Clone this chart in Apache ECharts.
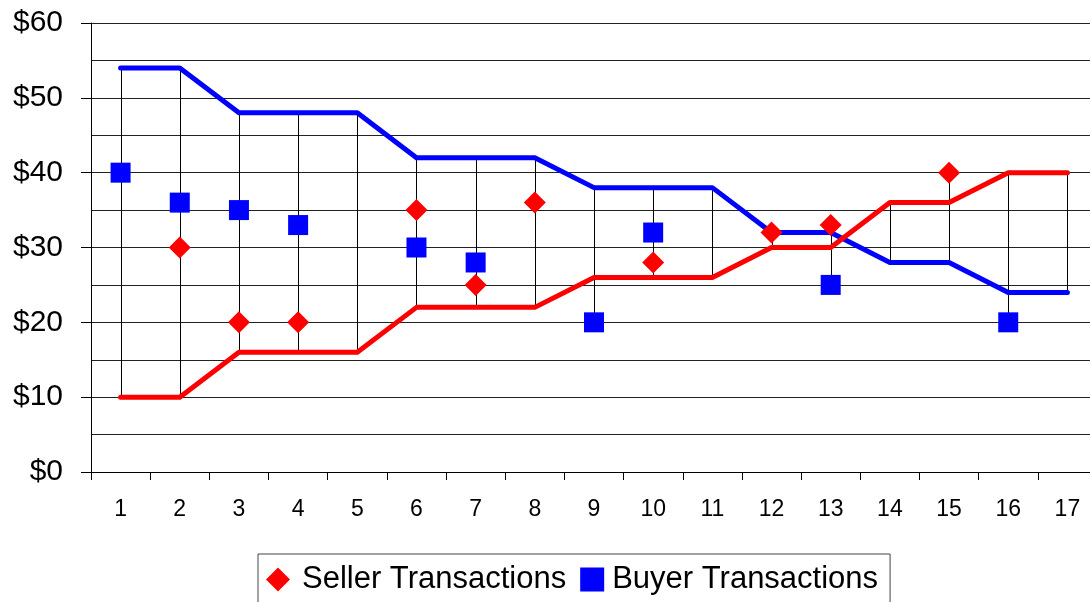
<!DOCTYPE html>
<html>
<head>
<meta charset="utf-8">
<title>Transactions</title>
<script src="https://cdn.jsdelivr.net/npm/echarts@6/dist/echarts.min.js"></script>
<style>
    html, body { margin: 0; padding: 0; background: #fff; overflow: hidden; }
    #chart { width: 1100px; height: 602px; }
</style>
</head>
<body>
<div id="chart"></div>
<script>
// 数据
const periods = ['1', '2', '3', '4', '5', '6', '7', '8', '9', '10', '11', '12', '13', '14', '15', '16', '17'];
const buyerValues = [54, 54, 48, 48, 48, 42, 42, 42, 38, 38, 38, 32, 32, 28, 28, 24, 24];
const sellerCosts = [10, 10, 16, 16, 16, 22, 22, 22, 26, 26, 26, 30, 30, 36, 36, 40, 40];
const sellerTrans = [null, 30, 20, 20, null, 35, 25, 36, null, 28, null, 32, 33, null, 40, null, null];
const buyerTrans = [40, 36, 35, 33, null, 30, 28, null, 20, 32, null, null, 25, null, null, 20, null];
const yTicks = [0, 10, 20, 30, 40, 50, 60];

const font = 'Liberation Sans, Arial, sans-serif';

// 高低线：每个类别所有数值的最小值和最大值
const hiLo = periods.map(function (p, i) {
    const vals = [buyerValues[i], sellerCosts[i], sellerTrans[i], buyerTrans[i]]
        .filter(function (v) { return v !== null; });
    return [i, Math.min.apply(null, vals), Math.max.apply(null, vals)];
});

function points(arr) {
    const out = [];
    arr.forEach(function (v, i) {
        if (v !== null) out.push([i, v]);
    });
    return out;
}

const myEcharts = echarts.init(document.getElementById('chart'));
const option = {
    animation: false,
    grid: {
        left: 91,
        top: 23,
        width: 1006,
        height: 449
    },
    legend: {
        left: 258,
        top: 554,
        padding: [10, 12, 30, 8],
        borderColor: '#444',
        borderWidth: 1,
        itemWidth: 24,
        itemHeight: 24,
        itemGap: 14,
        symbolKeepAspect: true,
        textStyle: { fontFamily: font, fontSize: 31, color: '#000' },
        data: [{
            name: 'Seller Transactions',
            textStyle: { padding: [0, 0, 0, 7] }
        }, {
            name: 'Buyer Transactions',
            textStyle: { padding: [0, 0, 0, 3] }
        }]
    },
    xAxis: {
        type: 'category',
        data: periods,
        boundaryGap: true,
        axisLine: { lineStyle: { color: '#000', width: 1 } },
        axisTick: { show: true, length: 8, lineStyle: { color: '#000' } },
        axisLabel: { fontFamily: font, fontSize: 23, color: '#000', margin: 26 },
        splitLine: { show: false }
    },
    yAxis: {
        type: 'value',
        min: yTicks[0],
        max: yTicks[yTicks.length - 1],
        interval: 10,
        axisLine: { show: true, lineStyle: { color: '#000', width: 1 } },
        axisTick: { show: true, length: 10, lineStyle: { color: '#000' } },
        axisLabel: {
            fontFamily: font,
            fontSize: 30,
            color: '#000',
            margin: 28,
            formatter: function (v) { return '$' + v; }
        },
        splitLine: { show: true, lineStyle: { color: '#222', width: 1 } },
        minorTick: { show: false, splitNumber: 2 },
        minorSplitLine: { show: true, lineStyle: { color: '#222', width: 1 } }
    },
    series: [{
        type: 'custom',
        name: 'hilo',
        silent: true,
        z: 1,
        data: hiLo,
        encode: { x: 0, y: [1, 2] },
        renderItem: function (params, api) {
            const p1 = api.coord([api.value(0), api.value(1)]);
            const p2 = api.coord([api.value(0), api.value(2)]);
            const x = Math.round(p1[0]) + 0.5;
            return {
                type: 'line',
                shape: { x1: x, y1: p1[1], x2: x, y2: p2[1] },
                style: { stroke: '#000', lineWidth: 1 }
            };
        }
    }, {
        type: 'line',
        name: 'Buyer Values',
        data: buyerValues,
        showSymbol: false,
        z: 2,
        lineStyle: { color: '#0000ff', width: 5, cap: 'round', join: 'round' },
        itemStyle: { color: '#0000ff' }
    }, {
        type: 'line',
        name: 'Seller Costs',
        data: sellerCosts,
        showSymbol: false,
        z: 2,
        lineStyle: { color: '#ff0000', width: 5, cap: 'round', join: 'round' },
        itemStyle: { color: '#ff0000' }
    }, {
        type: 'scatter',
        name: 'Seller Transactions',
        data: points(sellerTrans),
        symbol: 'diamond',
        symbolSize: 22,
        z: 3,
        itemStyle: { color: '#ff0000', opacity: 1 }
    }, {
        type: 'scatter',
        name: 'Buyer Transactions',
        data: points(buyerTrans),
        symbol: 'rect',
        symbolSize: 20,
        z: 3,
        itemStyle: { color: '#0000ff', opacity: 1 }
    }]
};
myEcharts.setOption(option);
</script>
</body>
</html>
